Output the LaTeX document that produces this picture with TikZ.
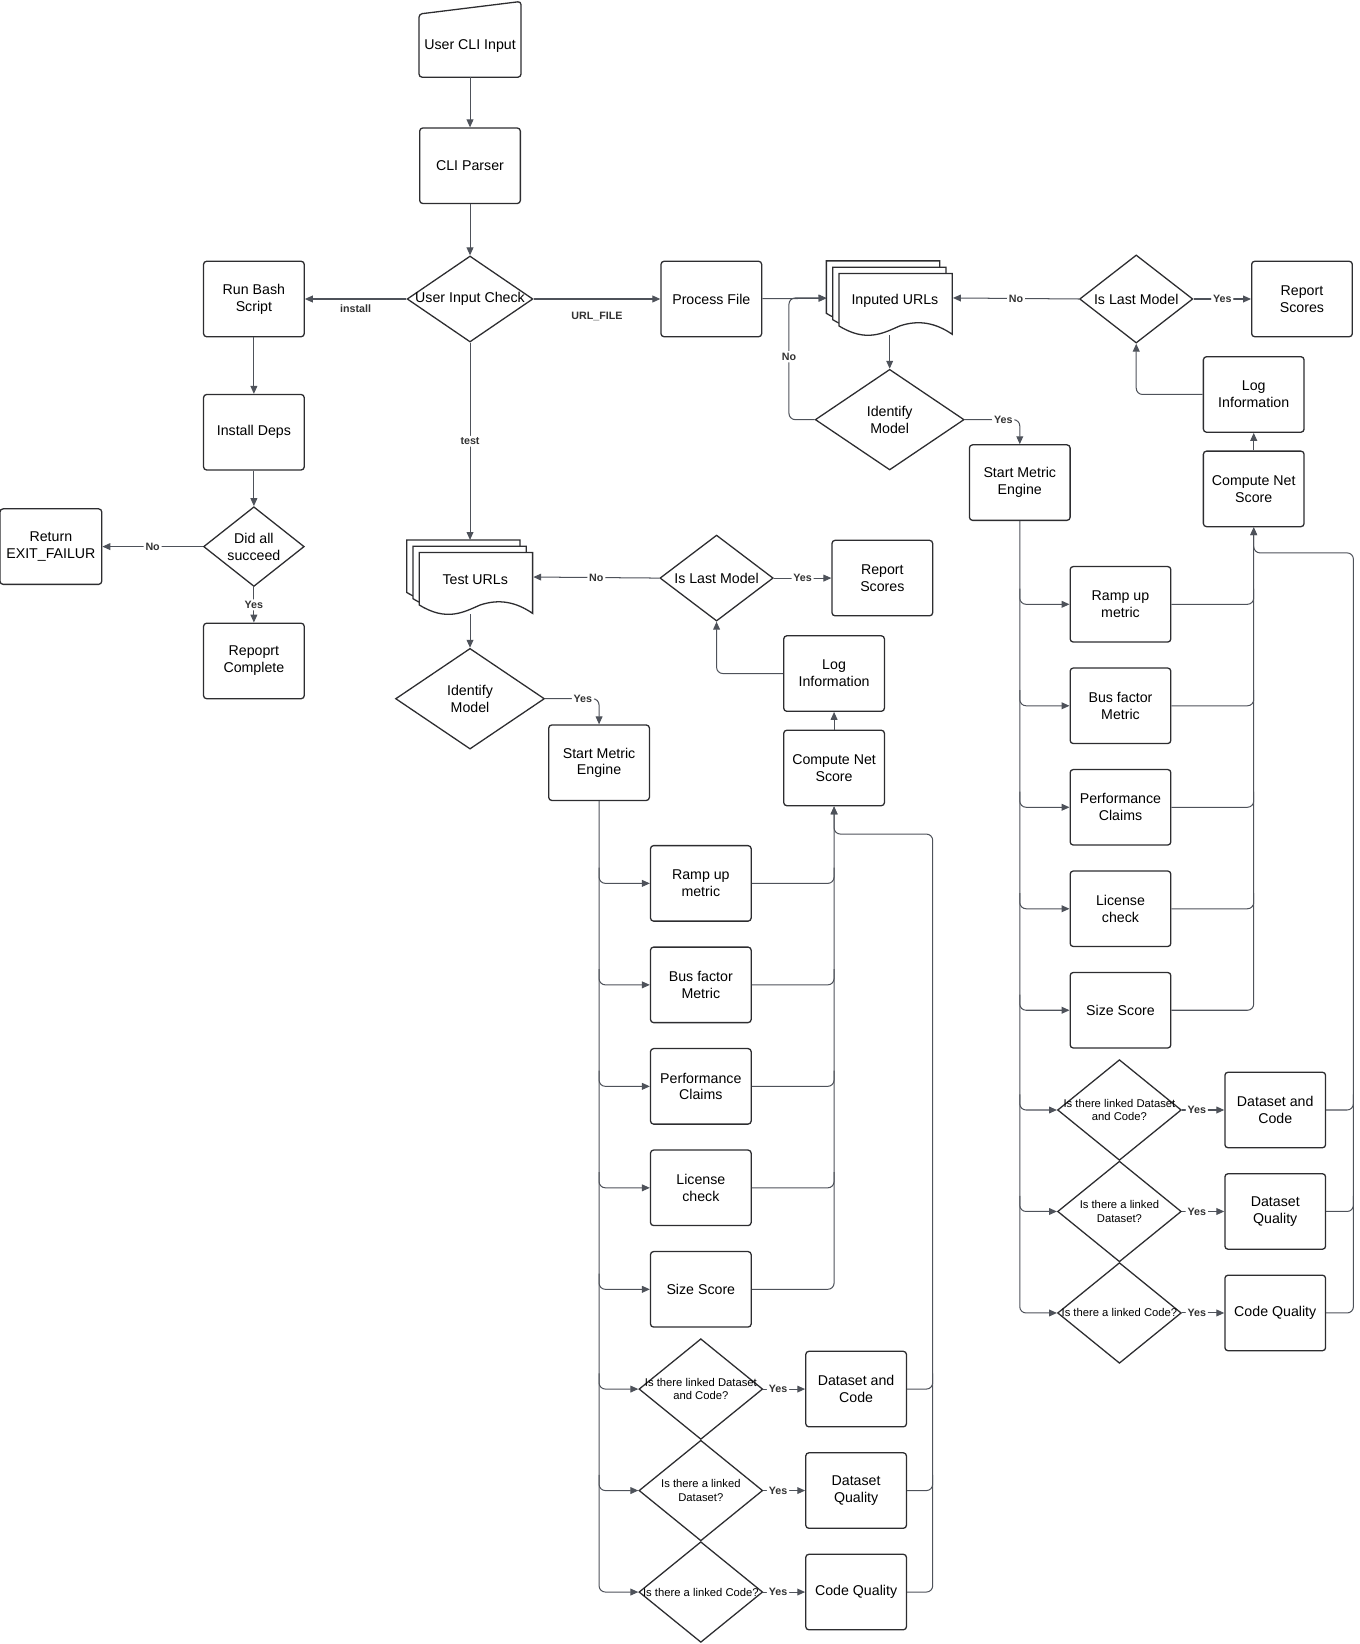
\documentclass[tikz,border=0pt]{standalone}
\usepackage{fontspec}
\setmainfont{Liberation Sans}
\usetikzlibrary{shapes.geometric,arrows.meta,positioning}
\definecolor{edgegray}{RGB}{78,82,90}
\definecolor{boxline}{RGB}{45,45,48}
\pgfdeclarelayer{bg}
\pgfsetlayers{bg,main}

\begin{document}
\begin{tikzpicture}[x=0.02cm,y=-0.02cm,node distance=1.935cm,>={Triangle[length=1.5mm,width=1.3mm]}]
        \tikzstyle{box} = [rectangle, rounded corners=0.6mm, minimum width=1.92cm, minimum height=1.44cm, align=center, draw=boxline, line width=0.7pt, fill=white, font=\fontsize{7.7}{9.1}\selectfont]
        \tikzstyle{decision} = [diamond, draw=boxline, line width=0.7pt, fill=white, inner sep=0pt]
        \tikzstyle{query} = [decision, minimum width=2.36cm, minimum height=1.92cm]
        \tikzstyle{every label} = [font=\fontsize{7.7}{9.1}\selectfont, align=center]
        \tikzstyle{small} = [font=\fontsize{6.1}{7.4}\selectfont]
        \tikzstyle{page} = [draw=boxline, line width=0.7pt, fill=white]
        \tikzstyle{flow} = [draw=edgegray, line width=0.55pt, rounded corners=1.2mm]
        \tikzstyle{tag} = [fill=white, inner sep=1pt, text=black!80, font=\fontsize{5.8}{7}\selectfont\bfseries]

        \useasboundingbox (0,0) rectangle (1296,1567);

        \node (usercli) [box, draw=none, fill=none, minimum height=1.42cm, label={[yshift=-0.13cm]center:User CLI Input}] at (448,37.5) {};
        \draw [page, fill=none, rounded corners=0.6mm] (usercli.south west) -- ([yshift=-0.24cm]usercli.north west) -- (usercli.north east) -- (usercli.south east) -- cycle;
        \node (parser) [box] at (448,158) {CLI Parser};
        \node (check) [decision, minimum width=2.4cm, minimum height=1.64cm, label={center:User Input Check}] at (448,285) {};

        \node (bash) [box] at (242,285) {Run Bash\\Script};
        \node (deps) [box] at (242,412) {Install Deps};
        \node (didall) [decision, minimum width=1.92cm, minimum height=1.52cm, label={center:Did all\\succeed}] at (242,521) {};
        \node (fail) [box, minimum width=1.94cm] at (48.5,521) {Return\\EXIT\_FAILUR};
        \node (repcomp) [box] at (242,630) {Repoprt\\Complete};

        \node (procfile) [box] at (678,285) {Process File};
        \node (inurls) [minimum width=2.4cm, minimum height=1.4cm, label={[xshift=0.1cm, yshift=-0.05cm]center:Inputed URLs}] at (848,284) {};
        \node (idm1) [decision, minimum width=2.84cm, minimum height=1.92cm, label={center:Identify\\Model}] at (848,400) {};
        \node (sme1) [box] at (972,460) {Start Metric\\Engine};
        \node (lastm1) [decision, minimum width=2.16cm, minimum height=1.68cm, label={center:Is Last Model}] at (1083,285) {};
        \node (rep1) [box] at (1241,285) {Report\\Scores};
        \node (log1) [box] at (1195,376) {Log\\Information};
        \node (cns1) [box] at (1195,466) {Compute Net\\Score};
        \coordinate (loop1) at (752,340);
        \coordinate (top1) at (1290,527);

        \node (ramp1) [box] at (1068,576) {Ramp up\\metric};
        \node (bus1) [box, below of=ramp1] {Bus factor\\Metric};
        \node (perf1) [box, below of=bus1] {Performance\\Claims};
        \node (lic1) [box, below of=perf1] {License\\check};
        \node (size1) [box, below of=lic1] {Size Score};
        \node (qdc1) [query, label={[small]center:Is there linked Dataset\\and Code?}] at (1067,1058) {};
        \node (qds1) [query, below of=qdc1, label={[small]center:Is there a linked\\Dataset?}] {};
        \node (qcq1) [query, below of=qds1, label={[small]center:Is there a linked Code?}] {};
        \node (dc1) [box] at (1215.5,1058) {Dataset and\\Code};
        \node (dq1) [box, below of=dc1] {Dataset\\Quality};
        \node (cq1) [box, below of=dq1] {Code Quality};

        \node (testurls) [minimum width=2.4cm, minimum height=1.4cm, label={[xshift=0.1cm, yshift=-0.05cm]center:Test URLs}] at (448,550) {};
        \node (idm2) [decision, minimum width=2.84cm, minimum height=1.92cm, label={center:Identify\\Model}] at (448,666) {};
        \node (sme2) [box] at (571,727) {Start Metric\\Engine};
        \node (lastm2) [decision, minimum width=2.16cm, minimum height=1.64cm, label={center:Is Last Model}] at (683,551) {};
        \node (rep2) [box] at (841,551) {Report\\Scores};
        \node (log2) [box] at (795,642) {Log\\Information};
        \node (cns2) [box] at (795,732) {Compute Net\\Score};
        \coordinate (top2) at (889,795);

        \node (ramp2) [box] at (668,842) {Ramp up\\metric};
        \node (bus2) [box, below of=ramp2] {Bus factor\\Metric};
        \node (perf2) [box, below of=bus2] {Performance\\Claims};
        \node (lic2) [box, below of=perf2] {License\\check};
        \node (size2) [box, below of=lic2] {Size Score};
        \node (qdc2) [query, label={[small]center:Is there linked Dataset\\and Code?}] at (668,1324) {};
        \node (qds2) [query, below of=qdc2, label={[small]center:Is there a linked\\Dataset?}] {};
        \node (qcq2) [query, below of=qds2, label={[small]center:Is there a linked Code?}] {};
        \node (dc2) [box] at (816,1324) {Dataset and\\Code};
        \node (dq2) [box, below of=dc2] {Dataset\\Quality};
        \node (cq2) [box, below of=dq2] {Code Quality};

        \begin{pgfonlayer}{bg}
        \foreach \d in {0,6,12} {
            \draw [page, shift={(inurls.north west)}, shift={(\d,\d)}] (0,0) -- (108,0) -- (108,58) .. controls (92,47) and (76,44) .. (58,50) .. controls (42,57) and (26,66) .. (0,50) -- cycle;
            \draw [page, shift={(testurls.north west)}, shift={(\d,\d)}] (0,0) -- (108,0) -- (108,58) .. controls (92,47) and (76,44) .. (58,50) .. controls (42,57) and (26,66) .. (0,50) -- cycle;
        }
        \end{pgfonlayer}

        \draw [flow,->] (usercli) -- (parser);
        \draw [flow,->] (parser) -- (check);
        \draw [flow,->] (check) -- node[tag, below=2pt]{install} (bash);
        \draw [flow,->] (check) -- node[tag, below=0.2cm]{URL\_FILE} (procfile);
        \draw [flow,->] (check) -- node[tag]{test} (testurls);
        \draw [flow,->] (bash) -- (deps);
        \draw [flow,->] (deps) -- (didall);
        \draw [flow,->] (didall) -- node[tag]{No} (fail);
        \draw [flow,->] (didall) -- node[tag]{Yes} (repcomp);

        \draw [flow,->] (procfile) -- (inurls);
        \draw [flow,->] (inurls.south) -- (idm1.north);
        \draw [flow,->] (idm1.west) -| (loop1) node[tag]{No} |- (inurls.west);
        \draw [flow,->] (idm1.east) -| node[tag, pos=0.35]{Yes} (sme1.north);
        \draw [flow,->] (lastm1.west) -- node[tag]{No} (inurls.east);
        \draw [flow,->] (lastm1) -- node[tag]{Yes} (rep1);
        \draw [flow,->] (cns1) -- (log1);
        \draw [flow,->] (log1.west) -| (lastm1.south);

        \draw [flow,->] (testurls.south) -- (idm2.north);
        \draw [flow,->] (idm2.east) -| node[tag, pos=0.35]{Yes} (sme2.north);
        \draw [flow,->] (lastm2.west) -- node[tag]{No} (testurls.east);
        \draw [flow,->] (lastm2) -- node[tag]{Yes} (rep2);
        \draw [flow,->] (cns2) -- (log2);
        \draw [flow,->] (log2.west) -| (lastm2.south);

        \foreach \n in {1,2} {
            \draw [flow,->] (sme\n.south) |- (qcq\n.west);
            \foreach \m in {ramp,bus,perf,lic,size,qdc,qds}
                \draw [flow,->] ([yshift=0.3cm]sme\n.south |- \m\n.west) |- (\m\n.west);
            \draw [flow,->] (size\n.east) -| (cns\n.south);
            \foreach \m in {ramp,bus,perf,lic}
                \draw [flow] (\m\n.east) -| ([yshift=0.3cm]cns\n.south |- \m\n.east);
            \foreach \q/\r in {qdc/dc,qds/dq,qcq/cq}
                \draw [flow,->] (\q\n.east) -- node[tag, pos=0.35]{Yes} (\r\n.west);
            \draw [flow,->] (cq\n.east) -| (top\n) -| (cns\n.south);
            \foreach \r in {dc,dq}
                \draw [flow] (\r\n.east) -| ([yshift=0.3cm]top\n |- \r\n.east);
        }
    \end{tikzpicture}
\end{document}
